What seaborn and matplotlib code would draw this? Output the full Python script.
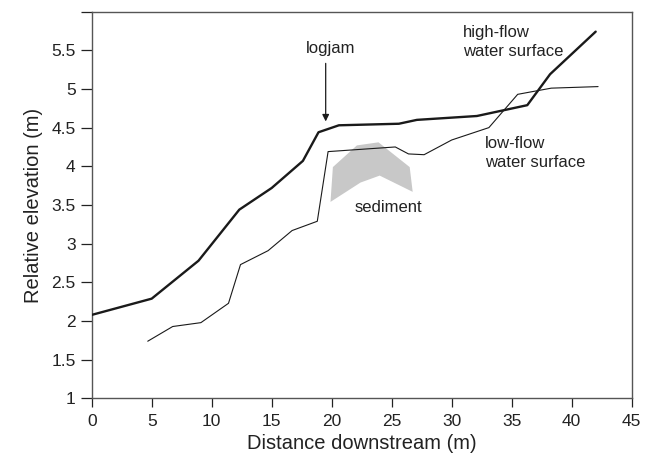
import matplotlib
matplotlib.use("Agg")
import matplotlib.pyplot as plt
import seaborn as sns
import pandas as pd

# High-flow water surface (thick line)
high_x = [0.0, 5.0, 8.9, 12.3, 15.0, 17.6, 18.9, 20.6, 25.6, 27.1, 32.1, 36.3, 38.2, 42.0]
high_y = [2.08, 2.29, 2.78, 3.44, 3.72, 4.07, 4.44, 4.53, 4.55, 4.60, 4.65, 4.79, 5.19, 5.74]

# Low-flow water surface (thin line)
low_x = [4.67, 6.75, 9.1, 11.4, 12.4, 14.7, 16.7, 18.8, 19.7, 25.3, 26.4, 27.7, 30.0, 33.1, 35.5, 38.3, 42.2]
low_y = [1.74, 1.93, 1.98, 2.23, 2.73, 2.91, 3.17, 3.29, 4.19, 4.25, 4.16, 4.15, 4.34, 4.50, 4.93, 5.01, 5.03]

# Sediment wedge outline
sed_x = [19.9, 20.1, 22.1, 23.9, 26.5, 26.75, 24.0, 22.4]
sed_y = [3.54, 3.99, 4.27, 4.31, 3.99, 3.67, 3.88, 3.79]

x_ticks = [0, 5, 10, 15, 20, 25, 30, 35, 40, 45]
y_ticks = [1, 1.5, 2, 2.5, 3, 3.5, 4, 4.5, 5, 5.5, 6]
y_tick_labels = ["1", "1.5", "2", "2.5", "3", "3.5", "4", "4.5", "5", "5.5", ""]

sns.set_style("white")
plt.rcParams["font.family"] = ["Liberation Sans", "DejaVu Sans"]

fig = plt.figure(figsize=(6.55, 4.61), dpi=100)
ax = fig.add_axes([0.140, 0.1356, 0.8244, 0.8394])

ax.fill(sed_x, sed_y, color="#c8c8c8", lw=0, zorder=1)

df_high = pd.DataFrame({"x": high_x, "y": high_y})
df_low = pd.DataFrame({"x": low_x, "y": low_y})
sns.lineplot(data=df_high, x="x", y="y", sort=False, estimator=None, ax=ax,
             color="#1a1a1a", lw=1.7, zorder=3)
sns.lineplot(data=df_low, x="x", y="y", sort=False, estimator=None, ax=ax,
             color="#1a1a1a", lw=0.8, zorder=2)

ax.set_xlim(0, 45)
ax.set_ylim(1, 6)
ax.set_xticks(x_ticks)
ax.set_xticklabels([str(t) for t in x_ticks])
ax.set_yticks(y_ticks)
ax.set_yticklabels(y_tick_labels)
ax.tick_params(axis="both", direction="out", labelsize=12.5, colors="#222222",
               width=0.9, bottom=True, left=True)
ax.tick_params(axis="x", length=6.5, pad=5)
ax.tick_params(axis="y", length=8, pad=3.5)
for s in ax.spines.values():
    s.set_color("#555555")
    s.set_linewidth(1.0)

ax.set_xlabel("Distance downstream (m)", fontsize=14.5, color="#222222", labelpad=3)
ax.set_ylabel("Relative elevation (m)", fontsize=14.5, color="#222222", labelpad=6)

ax.annotate("", xy=(19.5, 4.58), xytext=(19.5, 5.33),
            arrowprops=dict(arrowstyle="-|>", color="#1a1a1a", lw=0.9,
                            mutation_scale=10, shrinkA=0, shrinkB=0))
ax.text(19.9, 5.52, "logjam", fontsize=12, ha="center", va="center", color="#222222")
ax.text(30.96, 5.61, "high-flow\nwater surface", fontsize=12, ha="left", va="center",
        color="#222222", linespacing=1.35)
ax.text(32.8, 4.17, "low-flow\nwater surface", fontsize=12, ha="left", va="center",
        color="#222222", linespacing=1.35)
ax.text(21.9, 3.47, "sediment", fontsize=12, ha="left", va="center", color="#222222")

fig.savefig("out.png", dpi=100, facecolor="white")
